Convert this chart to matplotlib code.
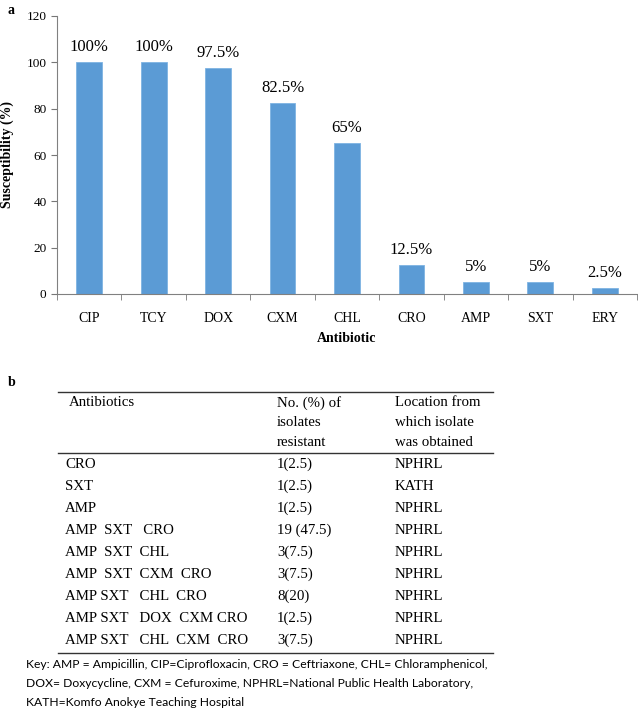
import numpy as np
import matplotlib.pyplot as plt

# panel a data
antibiotics = ['CIP', 'TCY', 'DOX', 'CXM', 'CHL', 'CRO', 'AMP', 'SXT', 'ERY']
susceptibility = [100, 100, 97.5, 82.5, 65, 12.5, 5, 5, 2.5]
bar_labels = ['100%', '100%', '97.5%', '82.5%', '65%', '12.5%', '5%', '5%', '2.5%']

# panel b data
header = [['Antibiotics'], ['No. (%) of', 'isolates', 'resistant'],
          ['Location from', 'which isolate', 'was obtained']]
patterns = ['CRO', 'SXT', 'AMP', 'AMP  SXT   CRO', 'AMP  SXT  CHL',
            'AMP  SXT  CXM  CRO', 'AMP SXT   CHL  CRO', 'AMP SXT   DOX  CXM CRO',
            'AMP SXT   CHL  CXM  CRO']
resistant = ['1(2.5)', '1(2.5)', '1(2.5)', '19 (47.5)', '3(7.5)', '3(7.5)', '8(20)', '1(2.5)', '3(7.5)']
location = ['NPHRL', 'KATH', 'NPHRL', 'NPHRL', 'NPHRL', 'NPHRL', 'NPHRL', 'NPHRL', 'NPHRL']
key_lines = ['Key: AMP = Ampicillin, CIP=Ciprofloxacin, CRO = Ceftriaxone, CHL= Chloramphenicol,',
             'DOX= Doxycycline, CXM = Cefuroxime, NPHRL=National Public Health Laboratory,',
             'KATH=Komfo Anokye Teaching Hospital']

W, H = 638, 713
fig = plt.figure(figsize=(W / 100, H / 100), dpi=100)
serif = 'Liberation Serif'

def fx(px):
    return px / W

def fy(py):
    return 1 - py / H

# ---- panel a: bar chart
ax = fig.add_axes([fx(57), fy(294), fx(637) - fx(57), fy(16) - fy(294)])
x = np.arange(len(antibiotics))
ax.bar(x, susceptibility, width=0.4, color='#5B9BD5', edgecolor='#7EB3E3', linewidth=0.6)
for xi, v, lab in zip(x, susceptibility, bar_labels):
    ax.text(xi, v + 3, lab, ha='center', va='bottom', fontsize=12, family=serif)

ax.set_xlim(-0.5, len(antibiotics) - 0.5)
ax.set_ylim(0, 120)
ax.set_yticks(np.arange(0, 121, 20))
ax.set_xticks(x)
ax.set_xticklabels(antibiotics, family=serif, fontsize=10)
ax.set_xticks(np.arange(-0.5, len(antibiotics)), minor=True)
ax.tick_params(axis='x', which='major', length=0, pad=13)
ax.tick_params(axis='x', which='minor', length=4, color='#777777', direction='out')
ax.tick_params(axis='y', length=4, color='#777777', labelsize=9.5)
for t in ax.get_yticklabels():
    t.set_family(serif)
for s in ['top', 'right']:
    ax.spines[s].set_visible(False)
for s in ['left', 'bottom']:
    ax.spines[s].set_color('#808080')
ax.set_xlabel('Antibiotic', family=serif, fontsize=10, fontweight='bold', labelpad=5)
ax.set_ylabel('Susceptibility (%)', family=serif, fontsize=10, fontweight='bold', labelpad=9)

fig.text(fx(8), fy(10), 'a', family=serif, fontsize=10, fontweight='bold', va='center')

# ---- panel b: table
fig.text(fx(8), fy(383), 'b', family=serif, fontsize=10, fontweight='bold', va='center')
tfs = 10.7
col_x = [69, 277, 395]
for cx, lines in zip(col_x, header):
    for j, h in enumerate(lines):
        fig.text(fx(cx), fy(403 + j * 20), h, family=serif, fontsize=tfs, va='center', ha='left')

row_y0, row_dy = 464, 22
for i, (p, r, loc) in enumerate(zip(patterns, resistant, location)):
    yy = fy(row_y0 + i * row_dy)
    fig.text(fx(65), yy, p, family=serif, fontsize=tfs, va='center')
    fig.text(fx(277), yy, r, family=serif, fontsize=tfs, va='center')
    fig.text(fx(395), yy, loc, family=serif, fontsize=tfs, va='center')

for ly in [392, 453, 653]:
    fig.add_artist(plt.Line2D([fx(58), fx(493)], [fy(ly), fy(ly)], color='#333333', lw=1.0))

for i, line in enumerate(key_lines):
    fig.text(fx(26), fy(664 + i * 19.5), line, family='Lato', fontsize=8.7, va='center')

fig.savefig('out.png', dpi=100)
